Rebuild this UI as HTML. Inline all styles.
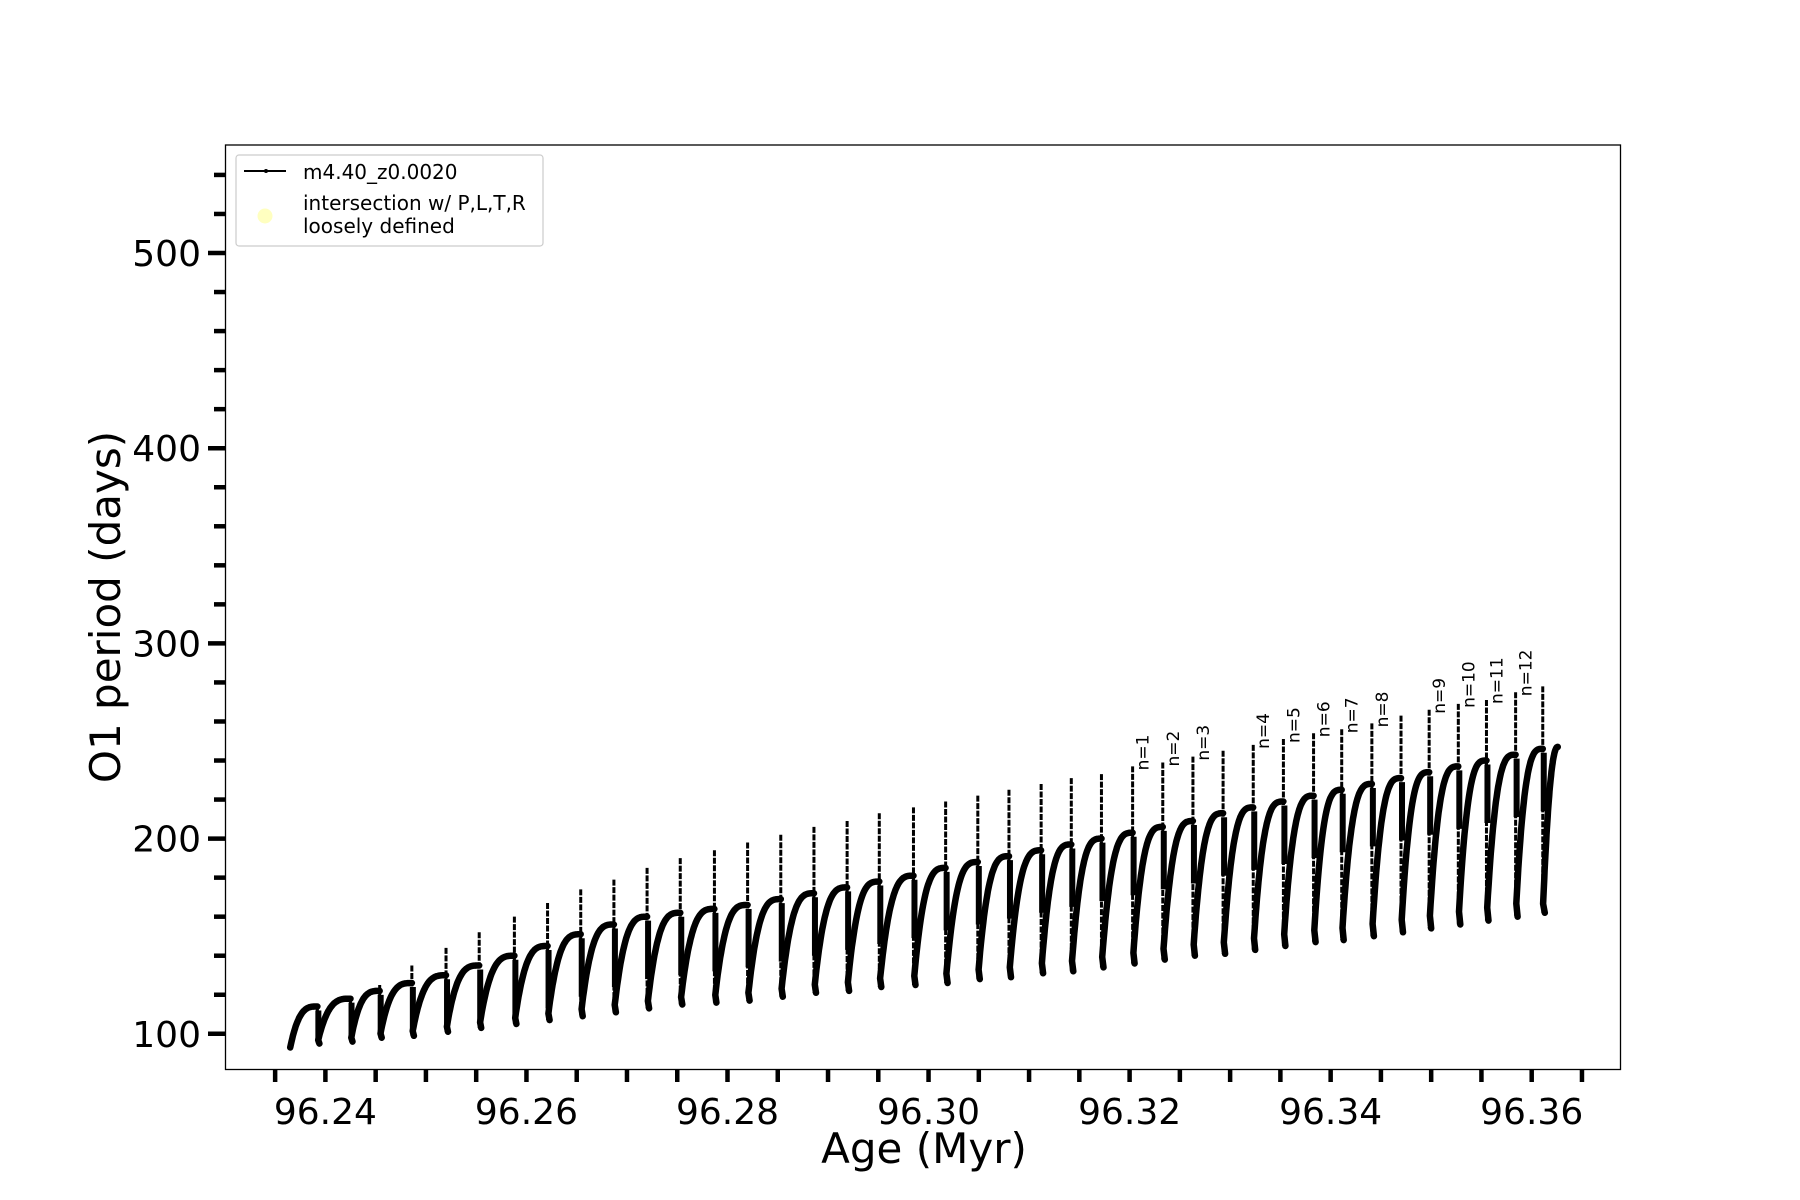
<!DOCTYPE html>
<html><head><meta charset="utf-8"><style>
body{margin:0;background:#fff}
svg{display:block;font-family:"DejaVu Sans","Liberation Sans",sans-serif}
</style></head><body>
<svg id="chart" width="1800" height="1200" viewBox="0 0 1800 1200">
<defs><clipPath id="clip"><rect x="225.5" y="145" width="1395" height="924.5"/></clipPath></defs>
<g id="plot" clip-path="url(#clip)"></g>
<rect x="225.5" y="145" width="1395" height="924.5" fill="none" stroke="#000" stroke-width="1.3"/>
<g id="xticks"></g>
<g id="yticks"></g>
<text x="924" y="1163" font-size="42" text-anchor="middle">Age (Myr)</text>
<text transform="translate(120,607) rotate(-90)" font-size="42" text-anchor="middle">O1 period (days)</text>
<g>
<rect x="236" y="155" width="307" height="91" rx="3" fill="#fff" stroke="#ccc" stroke-width="1.2"/>
<line x1="244" y1="171" x2="286" y2="171" stroke="#000" stroke-width="2"/>
<circle cx="266" cy="171" r="2" fill="#000"/>
<text x="303" y="179" font-size="20">m4.40_z0.0020</text>
<circle cx="265" cy="216" r="7.5" fill="#ffffc0"/>
<text x="303" y="210" font-size="20">intersection w/ P,L,T,R</text>
<text x="303" y="233" font-size="20">loosely defined</text>
</g>
</svg>
<script>
const spikeX=[276,305,330,358,388,417,447,476,505,534,563,592,621,650,679,708,737,765,794,822,850,877,905,932,958,985,1011,1037,1064,1090,1116,1142,1167,1193,1218,1243,1268,1293,1318,1342];
const plateau=[114,118,122,126,130,135,140,145,151,156,160,162,164,166,169,172,175,178,181,185,188,191,194,197,200,203,206,209,213,216,219,222,225,228,231,234,237,240,243,246];
const spikeTop=[113,118,125,135,144,152,160,167,174,179,185,190,194,198,202,206,209,213,216,219,222,225,228,231,233,237,239,242,245,248,251,254,256,259,263,266,269,271,275,278];
const spikeBottom=[95,96,98,99,101,103,105,107,109,111,113,115,116,117,119,121,122,124,125,126,128,129,131,132,134,136,138,140,141,143,145,147,148,150,152,154,156,158,160,162];
const labelIdx=[25,26,27,29,30,31,32,33,35,36,37,38];
const labelText=["n=1","n=2","n=3","n=4","n=5","n=6","n=7","n=8","n=9","n=10","n=11","n=12"];
const startAge=96.2365, startVal=93, endAge=96.3626, endVal=247;
const xTickVals=[96.24,96.26,96.28,96.30,96.32,96.34,96.36];
const yTickVals=[100,200,300,400,500];
const ages=spikeX.map(d=>+(96.24+(d-283)*0.0001144).toFixed(4));

const NS="http://www.w3.org/2000/svg";
const X=a=>325.4+(a-96.24)/0.12*1206.3;
const Y=v=>1033.8-(v-100)*1.952;
function mk(tag,attrs,parent){const e=document.createElementNS(NS,tag);for(const k in attrs)e.setAttribute(k,attrs[k]);parent.appendChild(e);return e;}
const plot=document.getElementById('plot');
for(let i=0;i<ages.length;i++){
  const l=mk('line',{x1:X(ages[i]),x2:X(ages[i]),y1:Y(spikeTop[i]),y2:Y(spikeBottom[i]),stroke:'#000','stroke-width':3,'stroke-dasharray':'6 1.5'},plot);
  
  
  const baseLow=Math.max(plateau[i]-32,spikeBottom[i]+2);
  const l2=mk('line',{x1:X(ages[i])+1,x2:X(ages[i])+1,y1:Y(plateau[i])+4,y2:Y(baseLow),stroke:'#000','stroke-width':6},plot);
  
  
}
let d=`M${X(startAge)},${Y(startVal)}`;
let prevA=startAge, prevB=startVal;
for(let i=0;i<=ages.length;i++){
  const a1=i<ages.length?ages[i]:endAge;
  const p=i<ages.length?plateau[i]:endVal;
  const b=prevB;
  const n=40;
  for(let k=1;k<=n;k++){const t=k/n;const v=b+(p-b)*(1-Math.pow(1-t,i<ages.length?3.2:2.2));d+=`L${X(prevA+(a1-prevA)*t).toFixed(1)},${Y(v).toFixed(1)}`;}
  if(i<ages.length){prevA=ages[i];prevB=spikeBottom[i];d+=`M${(X(prevA)+2).toFixed(1)},${Y(spikeBottom[i]).toFixed(1)}`;}
}
const cp=mk('path',{d:d,fill:'none',stroke:'#000','stroke-width':6.5,'stroke-linejoin':'round','stroke-linecap':'round'},plot);


labelIdx.forEach((idx,j)=>{
  const x=X(ages[idx])+16, y=Y(spikeTop[idx])+4;
  const t=mk('text',{transform:`translate(${x},${y}) rotate(-90)`,'font-size':17},plot);
  t.textContent=labelText[j];
  
  
});
const xg=document.getElementById('xticks');
for(let k=0;k<=26;k++){const a=96.235+k*0.005;const x=X(a);if(x<225||x>1621)continue;
  const tk=mk('line',{x1:x,x2:x,y1:1069.5,y2:1082,stroke:'#000','stroke-width':4.5},xg);
  
  }
xTickVals.forEach(v=>{const t=mk('text',{x:X(v),y:1124,'font-size':36,'text-anchor':'middle'},xg);t.textContent=v.toFixed(2);
  
  });
const yg=document.getElementById('yticks');
for(let v=100;v<=540;v+=20){const y=Y(v);const major=v%100===0;
  const tk=mk('line',{x1:major?208:214,x2:225.5,y1:y,y2:y,stroke:'#000','stroke-width':4.5},yg);
  
  }
yTickVals.forEach(v=>{const t=mk('text',{x:201,y:Y(v)+13,'font-size':36,'text-anchor':'end'},yg);t.textContent=v;
  
  });
</script>
</body></html>
